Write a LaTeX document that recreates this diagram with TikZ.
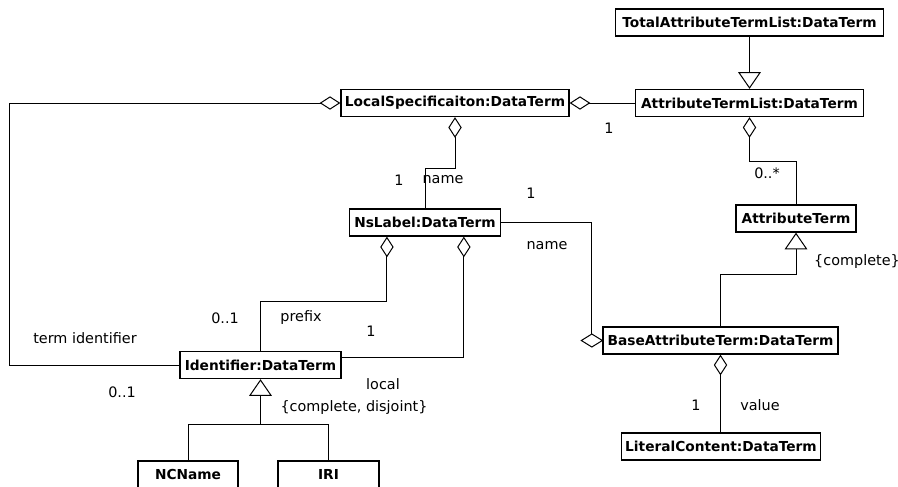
\documentclass[tikz,border=0pt]{standalone}
\usepackage{fontspec}
\setmainfont{DejaVu Sans}
\usetikzlibrary{arrows.meta,calc}
\newcommand\pxu{0.75pt}
\tikzset{
  cls/.style={draw, line width=1pt, fill=white, inner sep=0pt,
    minimum height=27*\pxu, font=\bfseries\fontsize{10.3pt}{12pt}\selectfont},
  lbl/.style={inner sep=0pt, font=\fontsize{10.8pt}{12pt}\selectfont},
  conn/.style={line width=0.75pt},
  agg/.style={conn, {Diamond[open,length=15.5pt,width=10pt]}-},
  aggend/.style={conn, -{Diamond[open,length=15.5pt,width=10pt]}},
  gen/.style={conn, -{Triangle[open,length=12.5pt,width=17pt]}},
}
\begin{document}
\begin{tikzpicture}[x=\pxu, y=-\pxu]
  \useasboundingbox (0,0) rectangle (898,486);
  \clip (0,0) rectangle (898,486);

  % classes
  \node[cls, minimum width=268*\pxu] (tatl) at (749.5,22.5) {TotalAttributeTermList:DataTerm};
  \node[cls, minimum width=228*\pxu] (atl)  at (749.5,103) {AttributeTermList:DataTerm};
  \node[cls, minimum width=228*\pxu] (ls)   at (455,103)   {LocalSpecificaiton:DataTerm};
  \node[cls, minimum width=151*\pxu] (nl)   at (425,222.5) {NsLabel:DataTerm};
  \node[cls, minimum width=120*\pxu] (at)   at (796,218.5) {AttributeTerm};
  \node[cls, minimum width=235*\pxu] (bat)  at (720.5,340.5) {BaseAttributeTerm:DataTerm};
  \node[cls, minimum width=199*\pxu] (lc)   at (721,446.5) {LiteralContent:DataTerm};
  \node[cls, minimum width=161*\pxu] (id)   at (260.5,365) {Identifier:DataTerm};
  \node[cls, minimum width=100*\pxu] (nc)   at (188,474.5) {NCName};
  \node[cls, minimum width=101*\pxu] (iri)  at (328.5,474.5) {IRI};

  % generalisations
  \draw[gen] (tatl.south) -- (atl.north);
  \draw[gen] (bat.north) -- ++(0,-52) -| (at.south);
  \coordinate (split) at (260.5,424);
  \draw[conn] (nc.north) |- (split) -| (iri.north);
  \draw[gen] (split) -- (id.south);

  % aggregations
  \draw[aggend] (atl.west) -- (ls.east);
  \draw[agg] (ls.west) -- ++(-331,0) |- (id.west);
  \draw[agg] (ls.south) -- ++(0,51) -| (nl.north);
  \draw[agg] (atl.south) -- ++(0,44) -| (at.north);
  \draw[agg] ($(nl.south west)!0.25!(nl.south east)$) -- ++(0,65) -| (id.north);
  \draw[agg] ($(nl.south west)!0.755!(nl.south east)$) |- ($(id.north east)!0.25!(id.south east)$);
  \draw[agg] (bat.south) -- (bat.south |- lc.north);
  % the name link meets the top corner of its diamond
  \coordinate (dtop) at ($(bat.west)+(-10.5,-6.5)$);
  \draw[conn] (nl.east) -| (dtop);
  \draw[conn, fill=white] (bat.west) -- (dtop) -- ++(-10.5,6.5) -- ++(10.5,6.5) -- cycle;

  % role names and multiplicities
  \node[lbl] (m1) at (609,128) {1};
  \node[lbl] (m2) at (767,173) {0..*};
  \node[lbl] (m3) at (399,180) {1};
  \node[lbl] (r1) at (443,180) {name};
  \node[lbl] (m4) at (531,193) {1};
  \node[lbl] (r2) at (547,246) {name};
  \node[lbl] (c1) at (857,262) {\{complete\}};
  \node[lbl] (m5) at (225,318) {0..1};
  \node[lbl] (r3) at (301,318) {prefix};
  \node[lbl] (m6) at (371,331) {1};
  \node[lbl] (r4) at (85,338) {term identifier};
  \node[lbl] (m7) at (122,392) {0..1};
  \node[lbl] (r5) at (383,384) {local};
  \node[lbl] (c2) at (354,408) {\{complete, disjoint\}};
  \node[lbl] (m8) at (696,405) {1};
  \node[lbl] (r6) at (760,405) {value};
\end{tikzpicture}
\end{document}
